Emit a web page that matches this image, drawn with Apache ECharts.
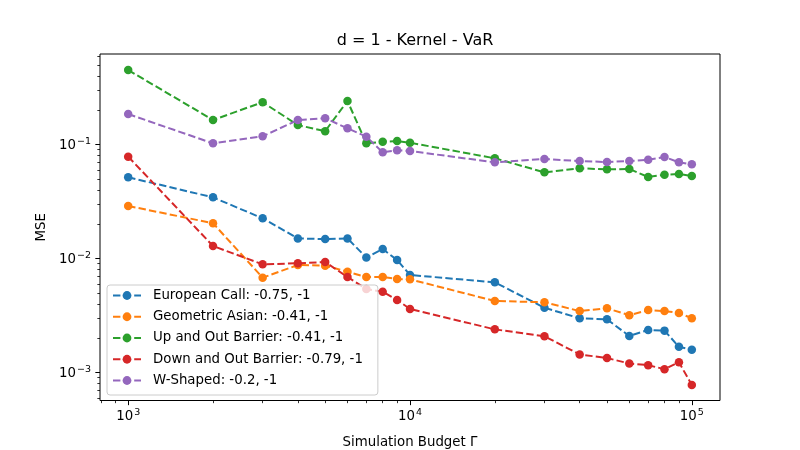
<!DOCTYPE html>
<html>
<head>
<meta charset="utf-8">
<script src="https://cdn.jsdelivr.net/npm/echarts@6/dist/echarts.min.js"></script>
<style>
  html, body { margin: 0; padding: 0; background: #fff; }
  #chart_container { width: 800px; height: 450px; }
</style>
</head>
<body>
<div id="chart_container"></div>
<script>
"use strict";

// simulation budgets (x)
const budgets = [1000, 2000, 3000, 4000, 5000, 6000, 7000, 8000, 9000, 10000,
                 20000, 30000, 40000, 50000, 60000, 70000, 80000, 90000, 100000];

// MSE values
const europeanCall = [0.0516, 0.0344, 0.0225, 0.0150, 0.0148, 0.0150, 0.0102, 0.0121, 0.0097, 0.00717,
                      0.00618, 0.00370, 0.00299, 0.00293, 0.00209, 0.00236, 0.00233, 0.00168, 0.00158];
const geometricAsian = [0.0289, 0.0204, 0.00679, 0.00877, 0.00865, 0.00766, 0.00688, 0.00688, 0.00661, 0.00657,
                        0.00424, 0.00413, 0.00346, 0.00366, 0.00318, 0.00353, 0.00346, 0.00333, 0.00299];
const upOutBarrier = [0.450, 0.164, 0.235, 0.148, 0.131, 0.241, 0.1024, 0.1058, 0.1073, 0.1037,
                      0.0757, 0.0570, 0.0618, 0.0606, 0.0610, 0.0519, 0.0543, 0.0551, 0.0529];
const downOutBarrier = [0.0782, 0.01287, 0.00889, 0.00908, 0.00932, 0.00688, 0.00540, 0.00511, 0.00433, 0.00361,
                        0.00239, 0.00208, 0.00144, 0.00134, 0.00120, 0.00116, 0.00107, 0.00123, 0.000777];
const wShaped = [0.185, 0.1024, 0.118, 0.164, 0.170, 0.1387, 0.1171, 0.0854, 0.0890, 0.0877,
                 0.0698, 0.0746, 0.0716, 0.0702, 0.0716, 0.0736, 0.0777, 0.0698, 0.0671];

const seriesNames = ['European Call: -0.75, -1', 'Geometric Asian: -0.41, -1', 'Up and Out Barrier: -0.41, -1',
                     'Down and Out Barrier: -0.79, -1', 'W-Shaped: -0.2, -1'];
const seriesColors = ['#1f77b4', '#ff7f0e', '#2ca02c', '#d62728', '#9467bd'];

// axis ticks (decades) and label exponents
const xMajor = [1000, 10000, 100000];
const xMajorExp = ['3', '4', '5'];
const yMajor = [0.1, 0.01, 0.001];
const yMajorExp = ['−1', '−2', '−3'];
const mantissas = [2, 3, 4, 5, 6, 7, 8, 9];
const xDecades = [100, 1000, 10000];
const yDecades = [0.0001, 0.001, 0.01, 0.1];

// log extents (matplotlib margins)
const xLogMin = 2.9, xLogMax = 5.1;
const yLogMin = -3.2456, yLogMax = -0.206;

const lg = v => Math.log10(v);

let minorList = (decades, lo, hi) => {
    let out = [];
    decades.forEach(d => mantissas.forEach(m => {
        let v = lg(d * m);
        if (v >= lo && v <= hi) out.push(v);
    }));
    return out;
};

const allData = [europeanCall, geometricAsian, upOutBarrier, downOutBarrier, wShaped];
const font = 'DejaVu Sans';

let xLabelMap = {};
xMajor.forEach((v, i) => { xLabelMap[lg(v).toFixed(3)] = xMajorExp[i]; });
let yLabelMap = {};
yMajor.forEach((v, i) => { yLabelMap[lg(v).toFixed(3)] = yMajorExp[i]; });

let supRich = {
    b: { fontFamily: font, fontSize: 13.33, color: '#000', lineHeight: 16, verticalAlign: 'bottom' },
    s: { fontFamily: font, fontSize: 9.5, color: '#000', lineHeight: 16, verticalAlign: 'top', padding: [0, 0, 0, 1] }
};

let baseAxis = {
    type: 'value',
    axisLine: { show: false },
    splitLine: { show: false },
};

let optEchart = {
    animation: false,
    backgroundColor: '#fff',
    title: {
        text: 'd = 1 - Kernel - VaR',
        left: 410,
        top: 28,
        textAlign: 'center',
        textStyle: { fontFamily: font, fontSize: 16, fontWeight: 'normal', color: '#000' }
    },
    grid: {
        left: 100, right: 80, top: 54, bottom: 49.5,
        outerBoundsMode: 'none',
        containLabel: false,
        show: true, borderColor: '#000', borderWidth: 1, backgroundColor: 'transparent'
    },
    legend: {
        orient: 'vertical',
        left: 107,
        top: 285,
        itemWidth: 28,
        itemHeight: 11,
        itemGap: 8.25,
        padding: [4, 15, 8, 5],
        backgroundColor: 'rgba(255,255,255,0.8)',
        borderColor: '#cccccc',
        borderWidth: 1,
        borderRadius: 3,
        textStyle: { fontFamily: font, fontSize: 13.33, color: '#000', padding: [0, 0, 0, 7] },
        data: seriesNames
    },
    xAxis: [
        Object.assign({}, baseAxis, {
            min: xLogMin, max: xLogMax,
            position: 'bottom',
            name: 'Simulation Budget Γ',
            nameLocation: 'middle',
            nameGap: 36,
            nameTextStyle: { fontFamily: font, fontSize: 13.33, color: '#000' },
            axisTick: { show: true, inside: false, length: 4.67, customValues: xMajor.map(lg),
                        lineStyle: { color: '#000', width: 1 } },
            axisLabel: { show: true, margin: 7, customValues: xMajor.map(lg), rich: supRich,
                         formatter: v => '{b|10}{s|' + (xLabelMap[Number(v).toFixed(3)] || '') + '}' }
        }),
        Object.assign({}, baseAxis, {
            min: xLogMin, max: xLogMax,
            position: 'bottom',
            axisTick: { show: true, inside: false, length: 2.67, customValues: minorList(xDecades, xLogMin, xLogMax),
                        lineStyle: { color: '#000', width: 0.8 } },
            axisLabel: { show: false }
        })
    ],
    yAxis: [
        Object.assign({}, baseAxis, {
            min: yLogMin, max: yLogMax,
            position: 'left',
            name: 'MSE',
            nameLocation: 'middle',
            nameGap: 42,
            nameTextStyle: { fontFamily: font, fontSize: 13.33, color: '#000' },
            axisTick: { show: true, inside: false, length: 4.67, customValues: yMajor.map(lg),
                        lineStyle: { color: '#000', width: 1 } },
            axisLabel: { show: true, margin: 9, customValues: yMajor.map(lg), rich: supRich,
                         formatter: v => '{b|10}{s|' + (yLabelMap[Number(v).toFixed(3)] || '') + '}' }
        }),
        Object.assign({}, baseAxis, {
            min: yLogMin, max: yLogMax,
            position: 'left',
            offset: 0,
            axisTick: { show: true, inside: false, length: 2.67, customValues: minorList(yDecades, yLogMin, yLogMax),
                        lineStyle: { color: '#000', width: 0.8 } },
            axisLabel: { show: false }
        })
    ],
    series: seriesNames.map((nm, i) => ({
        name: nm,
        type: 'line',
        xAxisIndex: 0,
        yAxisIndex: 0,
        symbol: 'circle',
        symbolSize: 8.5,
        color: seriesColors[i],
        lineStyle: { color: seriesColors[i], width: 2, type: [7.4, 3.2] },
        itemStyle: { color: seriesColors[i] },
        data: budgets.map((b, k) => [lg(b), lg(allData[i][k])])
    }))
};

let myChart;
let pageLoaded = () => {
    let chartDom = document.getElementById('chart_container');
    myChart = echarts.init(chartDom);
    myChart.setOption(optEchart);
};
window.addEventListener('load', pageLoaded, false);
</script>
</body>
</html>
